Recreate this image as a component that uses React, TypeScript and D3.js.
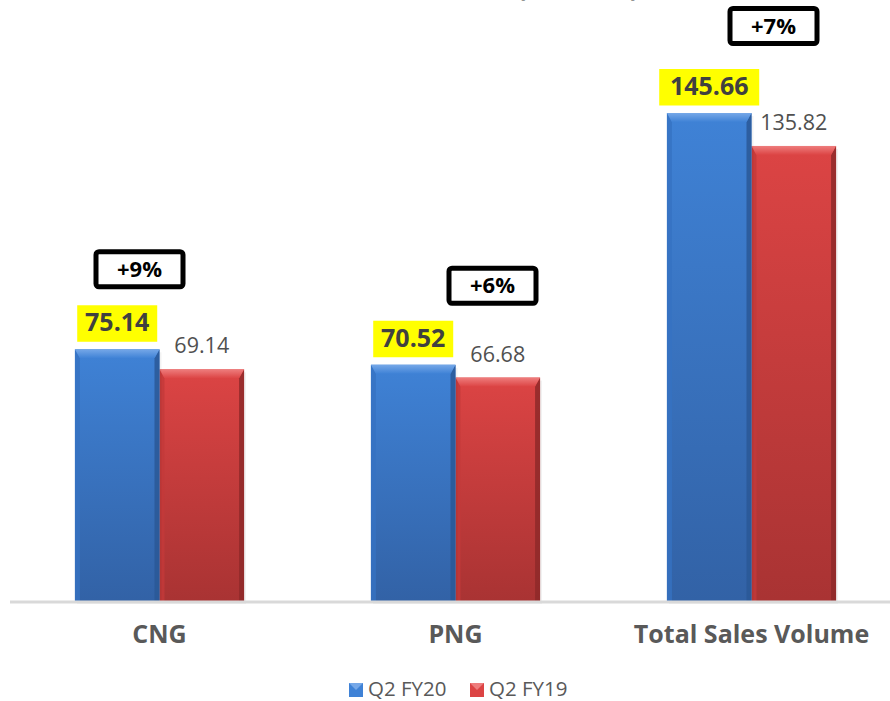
import { useEffect } from 'react';
import * as d3 from 'd3';

const categories = ['CNG', 'PNG', 'Total Sales Volume'];
const seriesNames = ['Q2 FY20', 'Q2 FY19'];
const fy20Values = [75.14, 70.52, 145.66];
const fy19Values = [69.14, 66.68, 135.82];
const growthLabels = ['+9%', '+6%', '+7%'];

// hand-placed annotation nudges (dx from group centre, gap above the FY20 bar)
const growthNudge = [
  [-20, 60],
  [37, 59],
  [22, 67],
];

const W = 890;
const H = 701;
const axisY = 601;

const colors = {
  blue: { top: '#3f82d6', bottom: '#3262a6', bevel: '#76a8e8', left: '#3672c2', right: '#2a5896' },
  red: { top: '#dc4444', bottom: '#a93333', bevel: '#ee7d7d', left: '#c33a3a', right: '#8e2929' },
};

const Bar = ({ x0, x1, yTop, fill }: { x0: number; x1: number; yTop: number; fill: keyof typeof colors }) => {
  const c = colors[fill];
  const bt = 9;
  const bs = 5;
  return (
    <g>
      <rect x={x0 + 2} y={yTop + 3} width={x1 - x0} height={axisY - yTop} fill="#000" opacity={0.05} />
      <rect x={x0} y={yTop} width={x1 - x0} height={axisY - yTop} fill={`url(#grad-${fill})`} />
      <polygon points={`${x0},${yTop} ${x0 + bs},${yTop + bt} ${x0 + bs},${axisY} ${x0},${axisY}`} fill={c.left} opacity={0.8} />
      <polygon points={`${x1},${yTop} ${x1 - bs},${yTop + bt} ${x1 - bs},${axisY} ${x1},${axisY}`} fill={c.right} opacity={0.85} />
      <polygon points={`${x0},${yTop} ${x1},${yTop} ${x1 - bs},${yTop + bt} ${x0 + bs},${yTop + bt}`} fill={`url(#bevel-${fill})`} />
    </g>
  );
};

const App = () => {
  useEffect(() => {
    document.body.style.margin = '0';
  }, []);

  const x = d3.scaleBand<string>().domain(categories).range([11.5, 899.5]).padding(0);
  const xs = d3.scaleBand<string>().domain(seriesNames).range([0, x.bandwidth()]).paddingInner(0).paddingOuter(0.75);
  const y = d3.scaleLinear().domain([0, 145.66]).range([axisY, 113]);

  const font = "'Open Sans', 'DejaVu Sans', sans-serif";

  return (
    <svg width={W} height={H} style={{ display: 'block', fontFamily: font }}>
      <defs>
        {(['blue', 'red'] as const).map((k) => (
          <g key={k}>
            <linearGradient id={`grad-${k}`} x1="0" y1="0" x2="0" y2="1">
              <stop offset="0%" stopColor={colors[k].top} />
              <stop offset="100%" stopColor={colors[k].bottom} />
            </linearGradient>
            <linearGradient id={`bevel-${k}`} x1="0" y1="0" x2="0" y2="1">
              <stop offset="0%" stopColor={colors[k].bevel} />
              <stop offset="100%" stopColor={colors[k].top} />
            </linearGradient>
          </g>
        ))}
      </defs>

      {/* title, mostly above the visible area */}
      <text x={517} y={-4} fontSize={26} fontWeight="bold" fill="#404040">
        (MMSCM)
      </text>

      {categories.map((cat, i) => {
        const gx = x(cat)!;
        const bx0 = gx + xs(seriesNames[0])!;
        const rx0 = gx + xs(seriesNames[1])!;
        const bw = xs.bandwidth();
        const by = y(fy20Values[i]);
        const ry = y(fy19Values[i]);
        const cx = gx + x.bandwidth() / 2;
        const digits = String(fy20Values[i]).replace('.', '').length;
        const boxW = digits * 20;
        const [dx, gap] = growthNudge[i];
        const gBoxW = 87;
        const gBoxH = 35;
        const gcx = cx + dx;
        const gBottom = by - gap;
        return (
          <g key={cat}>
            <Bar x0={rx0} x1={rx0 + bw} yTop={ry} fill="red" />
            <Bar x0={bx0} x1={bx0 + bw} yTop={by} fill="blue" />

            <rect x={bx0 + bw / 2 - boxW / 2} y={by - 44} width={boxW} height={36.5} fill="#ffff00" />
            <text x={bx0 + bw / 2} y={by - 18} textAnchor="middle" fontSize={25} fontWeight="bold" fill="#404040">
              {fy20Values[i].toFixed(2)}
            </text>

            <text x={rx0 + bw / 2} y={ry - 16} textAnchor="middle" fontSize={21.5} fill="#505050">
              {fy19Values[i].toFixed(2)}
            </text>

            <rect
              x={gcx - gBoxW / 2}
              y={gBottom - gBoxH - 2.5}
              width={gBoxW}
              height={gBoxH}
              rx={3}
              fill="#fff"
              stroke="#000"
              strokeWidth={5}
            />
            <text x={gcx} y={gBottom - 12.5} textAnchor="middle" fontSize={22} fontWeight="bold" fill="#000">
              {growthLabels[i]}
            </text>

            <text x={cx} y={643} textAnchor="middle" fontSize={25} fontWeight="bold" fill="#595959">
              {cat}
            </text>
          </g>
        );
      })}

      <line x1={10} x2={W} y1={axisY + 1} y2={axisY + 1} stroke="#d9d9d9" strokeWidth={3} />

      {seriesNames.map((s, i) => {
        const lx = 349 + i * 121;
        const k = i === 0 ? 'blue' : 'red';
        return (
          <g key={s}>
            <rect x={lx} y={683} width={14} height={14} fill={colors[k].top} />
            <polygon points={`${lx},${683} ${lx + 14},${683} ${lx + 7},${690}`} fill={colors[k].bevel} />
            <text x={lx + 19} y={696} fontSize={20.5} fill="#595959">
              {s}
            </text>
          </g>
        );
      })}
    </svg>
  );
};

export default App;
